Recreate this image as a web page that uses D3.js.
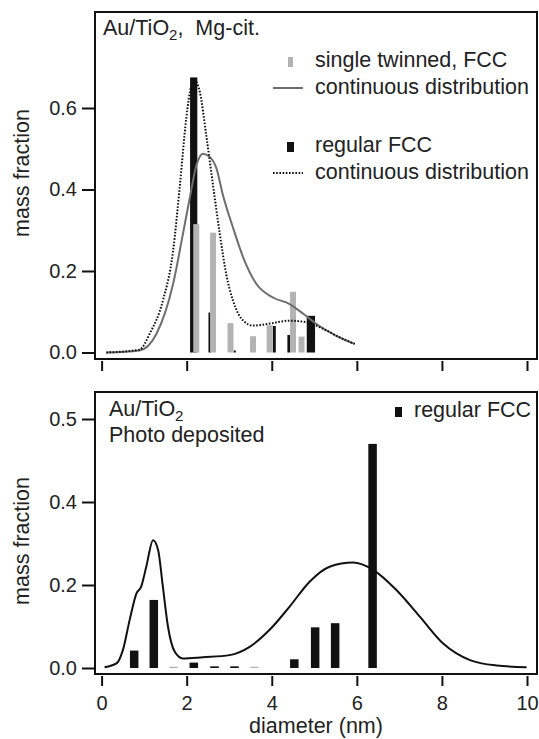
<!DOCTYPE html>
<html>
<head>
    <title>Au/TiO2 mass fraction vs diameter</title>
    <script src="https://d3js.org/d3.v7.min.js"></script>
    <style>
        body {
            margin: 0;
            background: #fff;
            font-family: "Liberation Sans", Arial, sans-serif;
        }
        text {
            fill: #222;
        }
        .tick text {
            font-size: 20px;
        }
        .tick line {
            stroke: #111;
            stroke-width: 2;
        }
        .frame {
            fill: none;
            stroke: #111;
            stroke-width: 2;
        }
    </style>
</head>
<body>
    <div id="chart"></div>

    <script>
        // ---- data (diameter in nm, mass fraction) ----
        // top panel, Au/TiO2 Mg-cit.
        const topRegular = [   // regular FCC histogram: [diameter, fraction, bin width]
            [2.165, 0.675, 0.17], [2.54, 0.098, 0.055], [3.13, 0.005, 0.05],
            [4.06, 0.065, 0.07], [4.40, 0.043, 0.065], [4.92, 0.090, 0.195]
        ];
        const topTwinned = [   // single twinned FCC histogram
            [2.225, 0.315, 0.14], [2.62, 0.294, 0.14], [3.03, 0.072, 0.14],
            [3.56, 0.040, 0.14], [3.95, 0.067, 0.14], [4.50, 0.149, 0.14],
            [4.70, 0.039, 0.14]
        ];
        const topTwinnedCurve = [
            [0.11, 0], [0.89, 0.005], [1.29, 0.046], [1.68, 0.168], [1.91, 0.29],
            [2.07, 0.378], [2.23, 0.46], [2.38, 0.488], [2.54, 0.48], [2.70, 0.452],
            [2.85, 0.387], [3.09, 0.306], [3.33, 0.233], [3.64, 0.168], [4.03, 0.135],
            [4.42, 0.119], [4.74, 0.095], [5.05, 0.07], [5.52, 0.041], [5.95, 0.021]
        ];
        const topRegularCurve = [
            [0.11, 0], [0.89, 0.007], [1.13, 0.046], [1.44, 0.127], [1.68, 0.249],
            [1.84, 0.41], [1.99, 0.574], [2.11, 0.655], [2.19, 0.667], [2.31, 0.639],
            [2.46, 0.533], [2.62, 0.41], [2.78, 0.29], [2.93, 0.192], [3.09, 0.127],
            [3.33, 0.078], [3.56, 0.066], [3.95, 0.071], [4.42, 0.078], [4.82, 0.074],
            [5.21, 0.058], [5.60, 0.037], [5.95, 0.021]
        ];

        // bottom panel, Au/TiO2 photo deposited
        const botRegular = [
            [0.766, 0.042, 0.2], [1.227, 0.164, 0.2], [2.167, 0.013, 0.2],
            [2.654, 0.004, 0.2], [3.124, 0.004, 0.2],
            [4.53, 0.021, 0.2], [5.02, 0.098, 0.2], [5.49, 0.108, 0.2], [6.37, 0.540, 0.2]
        ];
        const botTrace = [ [1.69, 0.003, 0.2], [3.594, 0.003, 0.2] ];
        const botCurve = [
            [0.07, 0.002], [0.35, 0.011], [0.5, 0.043], [0.66, 0.116], [0.82, 0.18],
            [0.93, 0.196], [1.05, 0.244], [1.21, 0.308], [1.33, 0.284], [1.44, 0.196],
            [1.56, 0.10], [1.72, 0.039], [1.91, 0.023], [2.38, 0.026], [3.01, 0.031],
            [3.48, 0.051], [3.95, 0.092], [4.42, 0.148], [4.89, 0.208], [5.36, 0.244],
            [5.91, 0.254], [6.39, 0.236], [6.93, 0.188], [7.48, 0.124], [8.03, 0.059],
            [8.66, 0.019], [9.29, 0.006], [9.99, 0.002]
        ];

        const xTicks = [0, 2, 4, 6, 8, 10];
        const topYTicks = [0, 0.2, 0.4, 0.6];
        const topYLabels = ["0.0", "0.2", "0.4", "0.6"];
        const botYTicks = [0, 0.2, 0.4, 0.6];
        const botYLabels = ["0.0", "0.2", "0.4", "0.5"];   // as printed in the figure

        const topLegend = ["single twinned, FCC", "continuous distribution",
                           "regular FCC", "continuous distribution"];

        // ---- layout ----
        const W = 539, H = 739, FS = 21.5;
        const GRAY_BAR = "#b3b3b3", GRAY_LINE = "#6e6e6e", BLACK = "#111";

        const svg = d3.select("#chart").append("svg")
            .attr("width", W).attr("height", H);

        const x = d3.scaleLinear().domain([0, 10]).range([101.6, 527]);
        const yTop = d3.scaleLinear().domain([0, 0.6]).range([352.5, 108]);
        const yBot = d3.scaleLinear().domain([0, 0.6]).range([668, 419]);

        function bars(data, y, color) {
            svg.append("g").selectAll("rect")
               .data(data)
               .enter()
               .append("rect")
               .attr("x", d => x(d[0] - d[2] / 2))
               .attr("width", d => x(d[2]) - x(0))
               .attr("y", d => y(d[1]))
               .attr("height", d => y(0) - y(d[1]))
               .attr("fill", color);
        }

        function curve(data, y, color, dash) {
            const line = d3.line()
                           .x(d => x(d[0]))
                           .y(d => y(d[1]))
                           .curve(d3.curveMonotoneX);
            svg.append("path")
               .datum(data)
               .attr("d", line)
               .attr("fill", "none")
               .attr("stroke", color)
               .attr("stroke-width", 2)
               .attr("stroke-dasharray", dash);
        }

        function yAxis(y, ticks, labels) {
            const g = svg.append("g")
               .attr("transform", "translate(94,0)")
               .call(d3.axisLeft(y).tickValues(ticks)
                       .tickFormat((d, i) => labels[i])
                       .tickSize(12).tickPadding(5));
            g.select(".domain").remove();
        }

        function xAxis(yPos, showLabels) {
            const g = svg.append("g")
               .attr("transform", `translate(0,${yPos})`)
               .call(d3.axisBottom(x).tickValues(xTicks)
                       .tickFormat(showLabels ? d3.format("d") : "")
                       .tickSize(10).tickPadding(10));
            g.select(".domain").remove();
        }

        function subTitle(xp, yp, before, sub, after) {
            const t = svg.append("text")
                .attr("x", xp).attr("y", yp)
                .attr("font-size", FS)
                .attr("xml:space", "preserve");
            t.append("tspan").text(before);
            t.append("tspan").attr("dy", 5).attr("font-size", 15).text(sub);
            if (after) t.append("tspan").attr("dy", -5).text(after);
        }

        // ---- top panel ----
        svg.append("rect").attr("class", "frame")
           .attr("x", 95).attr("y", 12).attr("width", 442).attr("height", 347);

        bars(topRegular, yTop, BLACK);
        bars(topTwinned, yTop, GRAY_BAR);
        curve(topTwinnedCurve, yTop, GRAY_LINE, null);
        curve(topRegularCurve, yTop, BLACK, "1.6,1.6");
        yAxis(yTop, topYTicks, topYLabels);
        xAxis(361, false);

        subTitle(103, 35, "Au/TiO", "2", ",  Mg-cit.");

        // legend
        const lg = svg.append("g");
        lg.append("rect").attr("x", 288).attr("y", 57).attr("width", 5).attr("height", 10).attr("fill", GRAY_BAR);
        lg.append("line").attr("x1", 273).attr("x2", 303).attr("y1", 88).attr("y2", 88)
          .attr("stroke", GRAY_LINE).attr("stroke-width", 2);
        lg.append("rect").attr("x", 287).attr("y", 142).attr("width", 7).attr("height", 10).attr("fill", BLACK);
        lg.append("line").attr("x1", 273).attr("x2", 303).attr("y1", 173).attr("y2", 173)
          .attr("stroke", BLACK).attr("stroke-width", 2).attr("stroke-dasharray", "1.6,1.6");
        lg.selectAll("text.lab")
          .data(topLegend)
          .enter()
          .append("text")
          .attr("class", "lab")
          .attr("x", 315)
          .attr("y", (d, i) => [67, 94, 152, 179][i])
          .attr("font-size", FS)
          .text(d => d);

        svg.append("text")
           .attr("transform", "translate(29,173) rotate(-90)")
           .attr("text-anchor", "middle")
           .attr("font-size", FS)
           .text("mass fraction");

        // ---- bottom panel ----
        svg.append("rect").attr("class", "frame")
           .attr("x", 95).attr("y", 392).attr("width", 442).attr("height", 282);

        bars(botTrace, yBot, GRAY_BAR);
        bars(botRegular, yBot, BLACK);
        curve(botCurve, yBot, BLACK, null);
        yAxis(yBot, botYTicks, botYLabels);
        xAxis(676, true);

        subTitle(109, 416, "Au/TiO", "2", null);
        svg.append("text").attr("x", 109).attr("y", 442).attr("font-size", FS).text("Photo deposited");

        svg.append("rect").attr("x", 395).attr("y", 407).attr("width", 7).attr("height", 10).attr("fill", BLACK);
        svg.append("text").attr("x", 414).attr("y", 417).attr("font-size", FS).text("regular FCC");

        svg.append("text")
           .attr("transform", "translate(29,541) rotate(-90)")
           .attr("text-anchor", "middle")
           .attr("font-size", FS)
           .text("mass fraction");

        svg.append("text")
           .attr("x", 316).attr("y", 733)
           .attr("text-anchor", "middle")
           .attr("font-size", FS)
           .text("diameter (nm)");
    </script>
</body>
</html>
